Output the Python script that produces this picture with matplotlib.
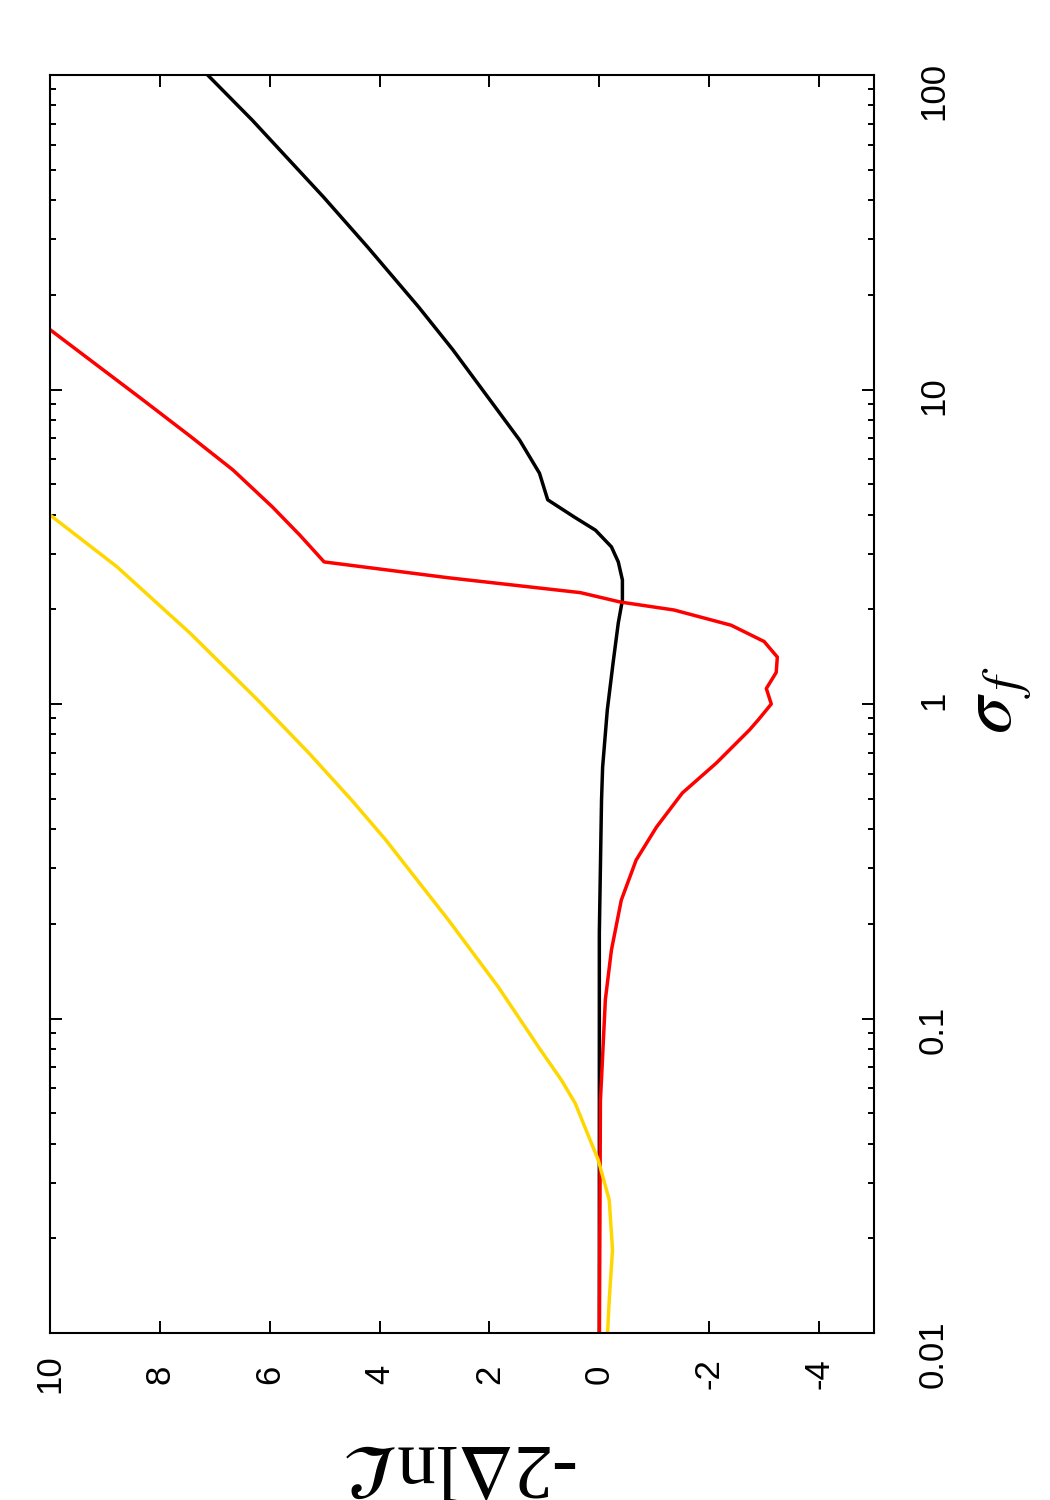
import matplotlib
matplotlib.use('Agg')
import matplotlib.pyplot as plt
from matplotlib.ticker import LogLocator, FixedLocator, NullFormatter, NullLocator

# sigma_f values (log axis) and -2 Delta lnL for each curve
black_sigma = [0.01, 0.055, 0.187, 0.39, 0.495, 0.63, 0.957, 1.35, 1.81, 2.14, 2.48, 2.83,
               3.16, 3.57, 3.93, 4.46, 5.42, 6.90, 9.06, 13.4, 18.3, 28.4, 40.9, 71.9, 100]
black_lnl = [0.0, 0.0, 0.0, -0.03, -0.04, -0.06, -0.145, -0.25, -0.345, -0.42, -0.42, -0.345,
             -0.22, 0.07, 0.455, 0.94, 1.09, 1.45, 1.95, 2.67, 3.29, 4.22, 5.02, 6.32, 7.13]

red_sigma = [0.01, 0.055, 0.070, 0.115, 0.165, 0.238, 0.319, 0.406, 0.521, 0.649, 0.826,
             0.889, 1.0, 1.12, 1.26, 1.41, 1.58, 1.78, 1.99, 2.11, 2.26, 2.52, 2.83,
             3.44, 4.23, 5.55, 7.11, 9.27, 15.5]
red_lnl = [0.0, -0.02, -0.05, -0.11, -0.22, -0.40, -0.67, -1.04, -1.51, -2.13, -2.73,
           -2.89, -3.13, -3.04, -3.22, -3.24, -3.0, -2.40, -1.36, -0.38, 0.345, 2.75, 5.01,
           5.45, 5.95, 6.67, 7.45, 8.31, 10.0]

yellow_sigma = [0.01, 0.0127, 0.0184, 0.0265, 0.0355, 0.0538, 0.0637, 0.0794, 0.126,
                0.206, 0.370, 0.495, 0.699, 1.03, 1.68, 2.73, 3.99]
yellow_lnl = [-0.15, -0.18, -0.24, -0.18, 0.02, 0.44, 0.69, 1.07, 1.84, 2.75, 3.89,
              4.51, 5.29, 6.22, 7.45, 8.78, 10.0]

lnl_ticks = [10, 8, 6, 4, 2, 0, -2, -4]
lnl_labels = ['10', '8', '6', '4', '2', '0', '-2', '-4']
sigma_ticks = [0.01, 0.1, 1, 10, 100]
sigma_labels = ['0.01', '0.1', '1', '10', '100']

plt.rcParams['font.family'] = ['Liberation Sans', 'DejaVu Sans']
plt.rcParams['mathtext.fontset'] = 'stix'

fig = plt.figure(figsize=(10.5, 15), dpi=100)
# the plot is drawn turned a quarter turn: likelihood runs left->right, sigma bottom->top
ax = fig.add_axes([50 / 1050, 1 - 1333 / 1500, 824 / 1050, 1258 / 1500])

ax.plot(black_lnl, black_sigma, color='black', lw=2.5)
ax.plot(red_lnl, red_sigma, color='#ff0000', lw=2.5)
ax.plot(yellow_lnl, yellow_sigma, color='#ffd700', lw=2.5)

ax.set_yscale('log')
ax.set_xlim(10, -5)
ax.set_ylim(0.01, 100)

# horizontal axis: -2 Delta lnL
ax.xaxis.set_major_locator(FixedLocator(lnl_ticks))
ax.set_xticklabels(lnl_labels, rotation=90)
ax.xaxis.set_minor_locator(NullLocator())
for lab in ax.get_xticklabels():
    lab.set_va('center')

# vertical axis: sigma_f
ax.yaxis.set_major_locator(FixedLocator(sigma_ticks))
ax.set_yticklabels(sigma_labels, rotation=90)
ax.yaxis.set_minor_locator(LogLocator(base=10, subs=range(2, 10)))
ax.yaxis.set_minor_formatter(NullFormatter())
for lab in ax.get_yticklabels():
    lab.set_ha('center')
    lab.set_va('center')

ax.tick_params(axis='x', which='major', direction='in', top=True, bottom=True,
               length=8.6, width=1.4, labelsize=25, pad=29.5)
ax.tick_params(axis='y', which='both', direction='in', left=True, right=True,
               labelleft=False, labelright=True, width=1.4, labelsize=25, pad=31)
ax.tick_params(axis='y', which='major', length=8.6)
ax.tick_params(axis='y', which='minor', length=4.3)

for s in ax.spines.values():
    s.set_linewidth(1.5)

# axis titles
ax.set_xlabel(r'-2$\Delta$ln$\mathcal{L}$', fontsize=56, rotation=180,
              family=['Liberation Serif', 'DejaVu Serif'])
ax.xaxis.label.set_ha('center')
ax.xaxis.label.set_va('center')
ax.xaxis.label.set_rotation_mode('default')
ax.xaxis.set_label_coords(0.5, -0.104)

ax.yaxis.set_label_position('right')
ax.set_ylabel(r'$\sigma_{\,f}$', fontsize=54, rotation=90)
ax.yaxis.label.set_ha('center')
ax.yaxis.label.set_va('center')
ax.yaxis.label.set_rotation_mode('default')
ax.yaxis.set_label_coords(1.153, 0.503)

plt.savefig('out.png', dpi=100)
